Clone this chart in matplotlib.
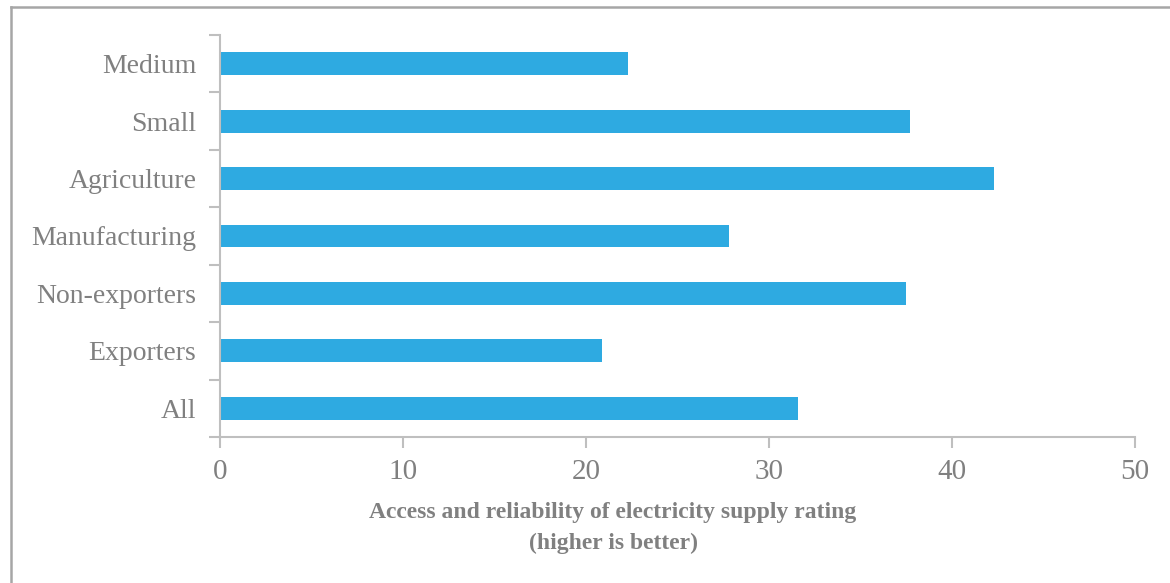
import matplotlib
matplotlib.use("Agg")
import matplotlib.pyplot as plt
from matplotlib.lines import Line2D

# firm groups, bottom to top
groups = ["All", "Exporters", "Non-exporters", "Manufacturing", "Agriculture", "Small", "Medium"]
rating = [31.6, 20.9, 37.5, 27.8, 42.3, 37.7, 22.3]
xticks = [0, 10, 20, 30, 40, 50]

bar_color = "#2EAAE1"
grey_text = "#808080"
axis_grey = "#BFBFBF"

plt.rcParams["font.family"] = ["Liberation Serif", "DejaVu Serif"]

fig = plt.figure(figsize=(11.7, 5.83), dpi=100)
ax = fig.add_axes([0.188, 0.2504, 0.782, 0.6896])

ypos = list(range(len(groups)))
ax.barh(ypos, rating, height=0.4, color=bar_color, edgecolor="none", zorder=2)

ax.set_xlim(0, 50)
ax.set_ylim(-0.5, len(groups) - 0.5)
ax.set_xticks(xticks)
ax.set_xticklabels([str(t) for t in xticks])
ax.set_yticks(ypos)
ax.set_yticklabels(groups)
ax.set_yticks([y - 0.5 for y in range(len(groups) + 1)], minor=True)

for side in ["top", "right"]:
    ax.spines[side].set_visible(False)
for side in ["left", "bottom"]:
    ax.spines[side].set_color(axis_grey)
    ax.spines[side].set_linewidth(1.5)

ax.tick_params(axis="y", which="major", length=0, pad=17, labelsize=20, labelcolor=grey_text)
ax.tick_params(axis="y", which="minor", length=8, width=1.5, color=axis_grey)
ax.tick_params(axis="x", length=8, width=1.5, color=axis_grey, pad=8,
               labelsize=21, labelcolor=grey_text)

fig.text(0.524, 0.094, "Access and reliability of electricity supply rating\n(higher is better)",
         ha="center", va="center", fontsize=17, fontweight="bold", color=grey_text,
         linespacing=1.6)

# outer frame (only top and left edges visible)
fig.add_artist(Line2D([11 / 1170, 11 / 1170], [0, 1 - 6.5 / 583], transform=fig.transFigure,
                      color="#A6A6A6", linewidth=1.8))
fig.add_artist(Line2D([11 / 1170, 1.01], [1 - 6.5 / 583, 1 - 6.5 / 583], transform=fig.transFigure,
                      color="#A6A6A6", linewidth=1.8))

fig.savefig("out.png", dpi=100)
